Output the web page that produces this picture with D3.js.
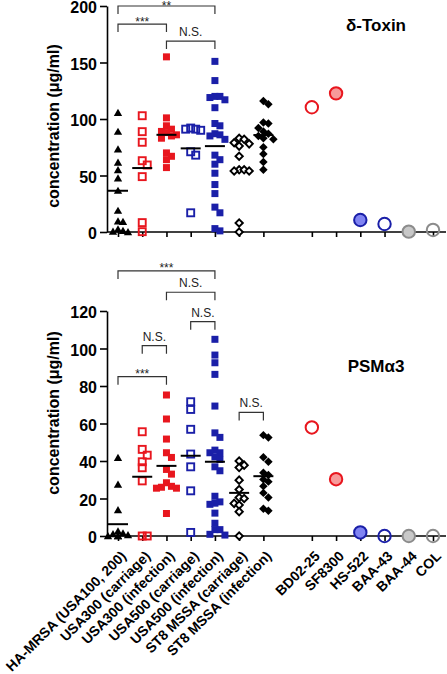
<!DOCTYPE html>
<html><head><meta charset="utf-8">
<script src="https://cdn.jsdelivr.net/npm/d3@7"></script>
<style>body{margin:0;background:#fff} svg{display:block;font-family:"Liberation Sans",Arial,sans-serif}</style>
</head><body><svg id="c" width="447" height="674"></svg>
<script>
// ---------- data ----------
const groups = ["HA-MRSA (USA100, 200)", "USA300 (carriage)", "USA300 (infection)", "USA500 (carriage)", "USA500 (infection)", "ST8 MSSA (carriage)", "ST8 MSSA (infection)"];
const strains = ["BD02-25", "SF8300", "HS-522", "BAA-43", "BAA-44", "COL"];

// delta-toxin (µg/ml)
const dtHA     = [105.6, 88.8, 73.2, 61.4, 54.9, 47.5, 36.6, 18.9, 9.5, 9, 2.5, 1, 0.5, 0];
const dtU300c  = [102.9, 88.8, 79.4, 63.1, 59.3, 49, 8.3, 0.3];
const dtU300i  = [155, 101, 94, 91, 89, 88, 86, 85, 83, 70, 67, 64, 57];
const dtU500c  = [92, 91, 91, 90, 71, 68, 17];
const dtU500i  = [151, 134, 120, 120, 119, 117, 110, 96, 94, 87, 86, 85, 82, 68, 64, 60, 52, 42, 34, 22, 17, 3, 1];
const dtST8c   = [83, 82, 79, 78, 76, 67, 55, 55, 54, 54, 8, 0];
const dtST8i   = [116, 113, 97, 96, 92, 89, 87, 85, 83, 82, 75, 69, 62, 55];
const dtMedians = [36.5, 56.6, 86, 74, 76, null, 85.8];
const dtStrains = [110.4, 122.7, 10.6, 7.1, 0.3, 1.8];
const dtTicks = [0, 50, 100, 150, 200];
const dtBrackets = [[0, 4, 200, "**"], [0, 2, 184, "***"], [2, 4, 169, "N.S."]];

// PSM alpha3 (µg/ml)
const psHA     = [41.7, 27.5, 13.8, 2.5, 1.5, 1, 0.5, 0, 0, 0];
const psU300c  = [55.6, 46.2, 43.1, 39.6, 36.4, 29.4, 0, 0];
const psU300i  = [75.2, 62.4, 51.7, 44.4, 41.9, 35.5, 33, 28.4, 26.5, 26, 25.5, 25.5, 12];
const psU500c  = [71.6, 67.5, 56.9, 43.7, 36.9, 24.1, 1.9];
const psU500i  = [104.9, 96.5, 92.4, 86.2, 69.3, 55, 52.6, 45.8, 44.4, 44.4, 42.2, 40.8, 36.9, 34.8, 21.2, 18.2, 17.5, 16.9, 12.2, 6.8, 3.4, 3.4, 0.9, 0.5];
const psST8c   = [40, 37.8, 36.5, 29.8, 24.8, 20.5, 20, 17.4, 16.5, 13, 0];
const psST8i   = [53.8, 52.5, 42, 39.6, 33.7, 32.5, 30.2, 29, 26.6, 23, 20.5, 14.5, 13.5];
const psMedians = [6.3, 31.6, 37.4, 42.8, 39.6, 23, 31.9];
const psStrains = [57.9, 30.3, 1.9, 0, 0, 0];
const psTicks = [0, 20, 40, 60, 80, 100, 120];
const psBrackets = [[0, 4, 141.4, "***"], [2, 4, 130, "N.S."], [3, 4, 114.3, "N.S."], [1, 2, 101.5, "N.S."], [0, 2, 85, "***"], [5, 6, 65.9, "N.S."]];

// ---------- styles ----------
const RED = "#e8161e", BLUE = "#1a1fa8", GREY = "#8c8c8c";
const groupStyle = [
  {shape: "triangle", fill: "#000", stroke: "none"},
  {shape: "square", fill: "none", stroke: RED},
  {shape: "square", fill: RED, stroke: "none"},
  {shape: "square", fill: "none", stroke: BLUE},
  {shape: "square", fill: BLUE, stroke: "none"},
  {shape: "diamond", fill: "#fff", stroke: "#000"},
  {shape: "diamond", fill: "#000", stroke: "none"}
];
const strainStyle = [
  {fill: "none", stroke: RED}, {fill: "#f79a9a", stroke: RED},
  {fill: "#8084f2", stroke: BLUE}, {fill: "none", stroke: BLUE},
  {fill: "#c8c8c8", stroke: GREY}, {fill: "none", stroke: GREY}
];

const svg = d3.select("#c");
const AX = 107;
const x = d3.scalePoint().domain([...groups, "", ...strains]).range([118, 433]);

const panels = [
  {title: "δ-Toxin", titleY: 31, domain: [0, 200], range: [232, 6], ticks: dtTicks,
   data: [dtHA, dtU300c, dtU300i, dtU500c, dtU500i, dtST8c, dtST8i], medians: dtMedians,
   strains: dtStrains, brackets: dtBrackets, labelY: 126, xLabels: false},
  {title: "PSMα3", titleY: 372, domain: [0, 120], range: [536, 311], ticks: psTicks,
   data: [psHA, psU300c, psU300i, psU500c, psU500i, psST8c, psST8i], medians: psMedians,
   strains: psStrains, brackets: psBrackets, labelY: 413, xLabels: true}
];

function swarm(values, cx, y, s) {
  const placed = [];
  return values.map(v => {
    const py = y(v);
    const cands = [0, s, -s, 2 * s, -2 * s];
    let best = null;
    for (const o of cands) {
      const hit = placed.some(p => Math.abs(p.y - py) < s * 1.2 && Math.abs(p.x - (cx + o)) < s * 0.9);
      if (!hit) { best = o; break; }
    }
    if (best === null) best = 0;
    const p = {x: cx + best, y: py};
    placed.push(p);
    return p;
  });
}

function marker(g, shape, p, st) {
  if (shape === "triangle") {
    g.append("path").attr("d", d3.symbol(d3.symbolTriangle, 30)())
      .attr("transform", `translate(${p.x},${p.y + 0.8})`).attr("fill", st.fill);
  } else if (shape === "square") {
    const open = st.fill === "none";
    const s = 7;
    g.append("rect").attr("x", p.x - s / 2).attr("y", p.y - s / 2).attr("width", s).attr("height", s)
      .attr("fill", st.fill).attr("stroke", st.stroke).attr("stroke-width", open ? 1.9 : 0);
  } else if (shape === "diamond") {
    const open = st.stroke !== "none";
    const s = open ? 5.2 : 6;
    g.append("rect").attr("x", -s / 2).attr("y", -s / 2).attr("width", s).attr("height", s)
      .attr("transform", `translate(${p.x},${p.y}) rotate(45)`)
      .attr("fill", st.fill).attr("stroke", st.stroke).attr("stroke-width", open ? 1.9 : 0);
  }
}

panels.forEach(P => {
  const y = d3.scaleLinear().domain(P.domain).range(P.range);
  const g = svg.append("g");

  // y axis
  const ya = g.append("g").attr("transform", `translate(${AX},0)`)
    .call(d3.axisLeft(y).tickValues(P.ticks).tickSize(7).tickPadding(3).tickSizeOuter(0));
  ya.select(".domain").attr("stroke", "#000").attr("stroke-width", 1.6);
  ya.selectAll(".tick line").attr("stroke", "#000").attr("stroke-width", 1.6);
  ya.selectAll(".tick text").attr("font-size", 16).attr("font-weight", "bold").attr("fill", "#000")
    .attr("dy", "0.42em").attr("font-family", "Liberation Sans, Arial, sans-serif");

  // x axis
  const y0 = y(0);
  g.append("line").attr("x1", AX).attr("x2", 446).attr("y1", y0).attr("y2", y0)
    .attr("stroke", "#000").attr("stroke-width", 1.6);
  const xa = g.append("g").attr("transform", `translate(0,${y0})`)
    .call(d3.axisBottom(x).tickValues([...groups, ...strains]).tickSize(5).tickFormat(""));
  xa.select(".domain").remove();
  xa.selectAll(".tick line").attr("stroke", "#000").attr("stroke-width", 1.6);

  if (P.xLabels) {
    g.selectAll("text.xl").data([...groups, ...strains]).join("text").attr("class", "xl")
      .attr("transform", d => `translate(${x(d) + 9},557) rotate(-45)`)
      .attr("text-anchor", "end").attr("font-size", 14).attr("font-weight", "bold").attr("fill", "#000")
      .text(d => d);
  }

  // y label
  g.append("text").attr("transform", `translate(59,${P.labelY}) rotate(-90)`)
    .attr("text-anchor", "middle").attr("font-size", 16).attr("font-weight", "bold").attr("fill", "#000")
    .text("concentration (μg/ml)");

  // title
  g.append("text").attr("x", 376).attr("y", P.titleY).attr("text-anchor", "middle")
    .attr("font-size", 17).attr("font-weight", "bold").attr("fill", "#000").text(P.title);

  // group scatter
  P.data.forEach((vals, i) => {
    const cx = x(groups[i]);
    const pts = swarm(vals, cx, y, 5);
    const st = groupStyle[i];
    pts.forEach(p => marker(g, st.shape, p, st));
  });
  // medians
  P.medians.forEach((m, i) => {
    if (m === null) return;
    const cx = x(groups[i]);
    g.append("line").attr("x1", cx - 10).attr("x2", cx + 10).attr("y1", y(m)).attr("y2", y(m))
      .attr("stroke", "#000").attr("stroke-width", 2);
  });
  // single strains
  P.strains.forEach((v, i) => {
    const st = strainStyle[i];
    g.append("circle").attr("cx", x(strains[i])).attr("cy", y(v)).attr("r", 6.2)
      .attr("fill", st.fill).attr("stroke", st.stroke).attr("stroke-width", 2);
  });

  // brackets
  P.brackets.forEach(([a, b, lvl, lab]) => {
    const x1 = x(groups[a]), x2 = x(groups[b]), yy = y(lvl);
    g.append("path").attr("d", `M${x1},${yy + 8}V${yy}H${x2}V${yy + 8}`)
      .attr("fill", "none").attr("stroke", "#333").attr("stroke-width", 1.2);
    const isStar = lab.startsWith("*");
    g.append("text").attr("x", (x1 + x2) / 2).attr("y", isStar ? yy + (yy < 10 ? 3.5 : 1.5) : yy - 5)
      .attr("text-anchor", "middle").attr("font-size", 12).attr("fill", "#222").text(lab);
  });
});
</script></body></html>
